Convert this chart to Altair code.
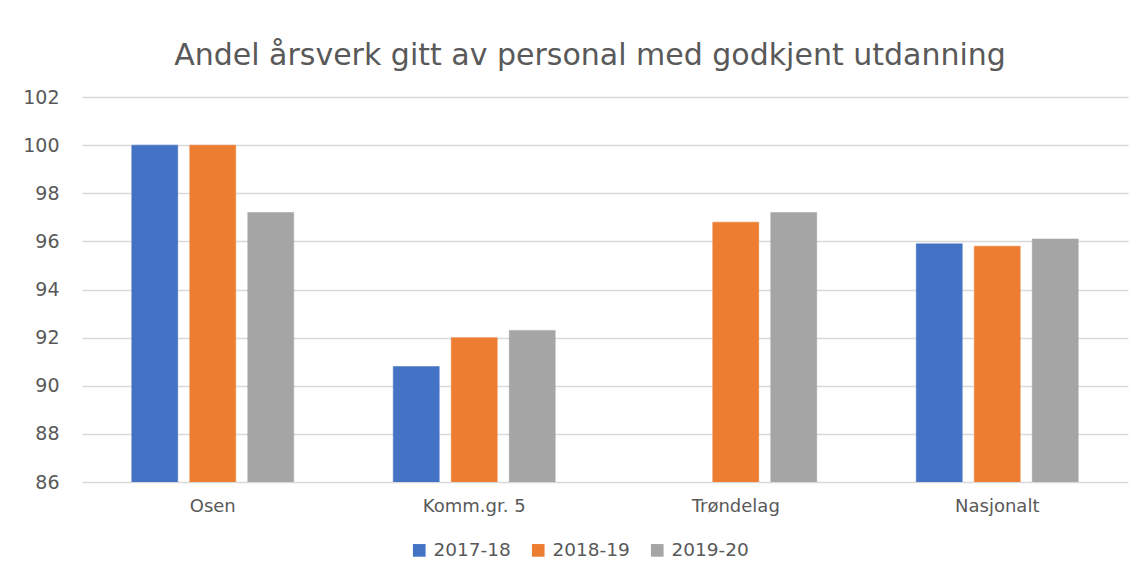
import altair as alt
import pandas as pd

categories = ["Osen", "Komm.gr. 5", "Trøndelag", "Nasjonalt"]
series = ["2017-18", "2018-19", "2019-20"]
v_2017_18 = [100.0, 90.8, None, 95.9]
v_2018_19 = [100.0, 92.0, 96.8, 95.8]
v_2019_20 = [97.2, 92.3, 97.2, 96.1]
colors = ["#4472C4", "#ED7D31", "#A5A5A5"]
y_ticks = [86, 88, 90, 92, 94, 96, 98, 100, 102]

rows = []
for s, vals in zip(series, [v_2017_18, v_2018_19, v_2019_20]):
    for c, v in zip(categories, vals):
        if v is not None:
            rows.append({"Område": c, "År": s, "Verdi": v})
df = pd.DataFrame(rows)

FONT = "DejaVu Sans"
GRAY = "#595959"

chart = alt.Chart(df).mark_bar(clip=True, strokeWidth=1, strokeOpacity=0.5).encode(
    x=alt.X("Område:N", sort=categories, title=None,
            scale=alt.Scale(paddingInner=0, paddingOuter=0),
            axis=alt.Axis(labelAngle=0, ticks=False, domain=False, grid=False, labelFontSize=18,
                          labelColor=GRAY, labelFont=FONT, labelPadding=15)),
    xOffset=alt.XOffset("År:N", sort=series,
                        scale=alt.Scale(paddingInner=0.207, paddingOuter=0.858)),
    y=alt.Y("Verdi:Q", title=None,
            scale=alt.Scale(domain=[86, 102], zero=False, nice=False),
            axis=alt.Axis(values=y_ticks, ticks=False, domain=False, labelFontSize=19,
                          labelColor=GRAY, labelFont=FONT, labelPadding=23,
                          gridColor="#D9D9D9", gridWidth=1.5)),
    color=alt.Color("År:N", sort=series,
                    scale=alt.Scale(domain=series, range=colors),
                    legend=alt.Legend(title=None, orient="none", direction="horizontal",
                                      legendX=328, legendY=444, symbolType="square",
                                      symbolSize=160, labelFontSize=18.5, labelColor=GRAY,
                                      labelFont=FONT, labelOffset=5, columnPadding=18,
                                      symbolStrokeWidth=0)),
    stroke=alt.Color("År:N", sort=series, scale=alt.Scale(domain=series, range=colors), legend=None),
).properties(
    width=1046,
    height=385,
    background="white",
    title=alt.TitleParams("Andel årsverk gitt av personal med godkjent utdanning",
                          fontSize=30, font=FONT, fontWeight="normal", color=GRAY,
                          anchor="middle", offset=17, dx=-15),
    autosize=alt.AutoSizeParams(type="none"),
    padding={"left": 74, "top": 89, "right": 9, "bottom": 90},
).configure_view(stroke=None)

chart.save("out.html", embed_options={"renderer": "svg", "actions": False})
